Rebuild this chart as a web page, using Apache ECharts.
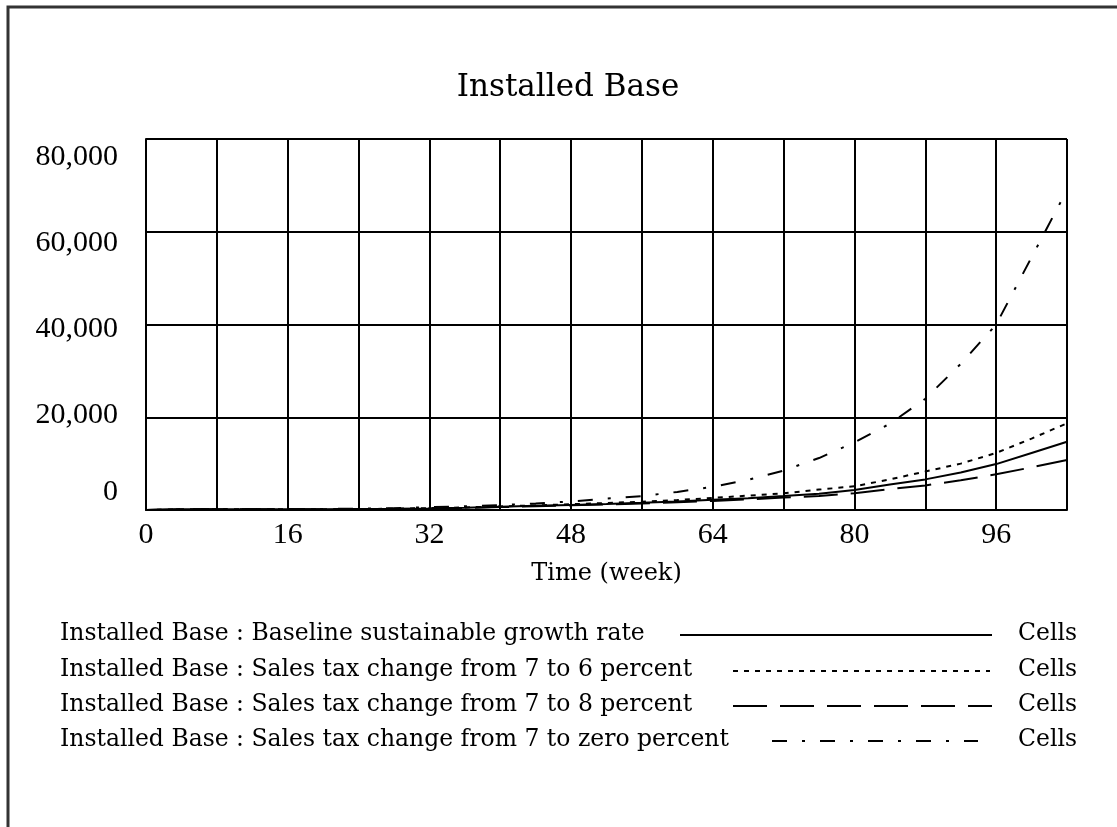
<!DOCTYPE html>
<html>
<head>
<meta charset="utf-8">
<style>
  html, body { margin: 0; padding: 0; background: #fff; }
  #chart { width: 1117px; height: 827px; }
</style>
<script src="https://cdn.jsdelivr.net/npm/echarts@6/dist/echarts.min.js"></script>
</head>
<body>
<div id="chart"></div>
<script>
// ---- Data ----
const weeks = [0,4,8,12,16,20,24,28,32,36,40,44,48,52,56,60,64,68,72,76,80,84,88,92,96,100,104];
const baseline = [0,150,150,150,160,170,200,250,350,500,700,900,1100,1300,1550,1850,2200,2550,3000,3500,4300,5500,6600,8100,9900,12300,14700];
const sixPct   = [0,150,150,150,160,170,200,280,400,560,780,1000,1250,1500,1800,2150,2600,3100,3600,4400,5100,6600,8300,10000,12300,15400,18700];
const eightPct = [0,150,150,150,160,170,200,240,320,450,620,800,1000,1200,1400,1650,1950,2300,2700,3000,3600,4500,5300,6400,7700,9200,10800];
const zeroPct  = [0,150,150,160,180,220,280,400,600,800,1050,1400,1850,2450,3000,3900,5000,6500,8500,11200,14600,18600,24000,31500,40000,54500,69000];

const seriesNames = [
  'Installed Base : Baseline sustainable growth rate',
  'Installed Base : Sales tax change from 7 to 6 percent',
  'Installed Base : Sales tax change from 7 to 8 percent',
  'Installed Base : Sales tax change from 7 to zero percent'
];
const unitLabel = 'Cells';
const titleText = 'Installed Base';
const xAxisName = 'Time (week)';
const yLabelsUpper = [20000, 40000, 60000, 80000];
const yLabelsZero = [0];

// ---- Styles ----
const dashes = ['solid', [5, 6], [34, 13], [15, 15, 3, 15]];
const seriesData = [baseline, sixPct, eightPct, zeroPct];
const ink = '#000';
const numFont = 'Liberation Serif';
const txtFont = 'DejaVu Serif';

const chart = echarts.init(document.getElementById('chart'), null, { renderer: 'canvas' });

const fmt = v => v.toLocaleString('en-US');

const series = seriesData.map((arr, i) => ({
  name: seriesNames[i],
  type: 'line',
  xAxisIndex: 0,
  yAxisIndex: 0,
  showSymbol: false,
  symbol: 'none',
  smooth: false,
  lineStyle: { color: ink, width: 2, type: dashes[i] },
  data: weeks.map((w, j) => [w, arr[j]]),
  z: 5
}));

// legend rows (graphic)
const legendRows = [
  { y: 635, x1: 680, x2: 992 },
  { y: 671, x1: 733, x2: 990 },
  { y: 706, x1: 733, x2: 992 },
  { y: 741, x1: 772, x2: 978 }
];
const graphics = [
  { type: 'polyline', shape: { points: [[8, 827], [8, 7], [1117, 7]] },
    style: { stroke: '#333', lineWidth: 3, fill: null } },
  { type: 'text', x: 568, y: 88,
    style: { text: titleText, font: '31px "' + txtFont + '"', fill: ink, textAlign: 'center', textVerticalAlign: 'middle' } }
];
legendRows.forEach((r, i) => {
  graphics.push({ type: 'text', x: 60, y: r.y - 1,
    style: { text: seriesNames[i], font: '23.5px "' + txtFont + '"', fill: ink, textAlign: 'left', textVerticalAlign: 'middle' } });
  graphics.push({ type: 'line', shape: { x1: r.x1, y1: r.y, x2: r.x2, y2: r.y },
    style: { stroke: ink, lineWidth: 2, lineDash: dashes[i] === 'solid' ? null : dashes[i] } });
  graphics.push({ type: 'text', x: 1018, y: r.y - 1,
    style: { text: unitLabel, font: '23.5px "' + txtFont + '"', fill: ink, textAlign: 'left', textVerticalAlign: 'middle' } });
});

const option = {
  animation: false,
  backgroundColor: '#fff',
  grid: { left: 146, top: 139, right: 50, bottom: 317, containLabel: false },
  xAxis: {
    type: 'value', min: 0, max: 104, interval: 8,
    axisLine: { show: true, lineStyle: { color: ink, width: 2 } },
    axisTick: { show: false },
    splitLine: { show: true, lineStyle: { color: ink, width: 2 } },
    axisLabel: {
      margin: 10, fontFamily: numFont, fontSize: 30, color: ink,
      formatter: v => (v % 16 === 0 ? String(v) : '')
    },
    name: xAxisName, nameLocation: 'middle', nameGap: 52,
    nameTextStyle: { fontFamily: txtFont, fontSize: 24, color: ink }
  },
  yAxis: [
    {
      type: 'value', min: 0, max: 80000, interval: 20000,
      axisLine: { show: true, lineStyle: { color: ink, width: 2 } },
      axisTick: { show: false },
      axisLabel: { show: false },
      splitLine: { show: true, lineStyle: { color: ink, width: 2 } }
    },
    {
      type: 'value', min: -2093, max: 84186, position: 'left',
      axisLine: { show: false }, axisTick: { show: false }, splitLine: { show: false },
      axisLabel: { show: true, customValues: yLabelsUpper, margin: 28, fontFamily: numFont, fontSize: 30, color: ink, formatter: fmt }
    },
    {
      type: 'value', min: -4299, max: 84299, position: 'left',
      axisLine: { show: false }, axisTick: { show: false }, splitLine: { show: false },
      axisLabel: { show: true, customValues: yLabelsZero, margin: 28, fontFamily: numFont, fontSize: 30, color: ink, formatter: fmt }
    }
  ],
  series: series,
  graphic: graphics
};
chart.setOption(option);
</script>
</body>
</html>
